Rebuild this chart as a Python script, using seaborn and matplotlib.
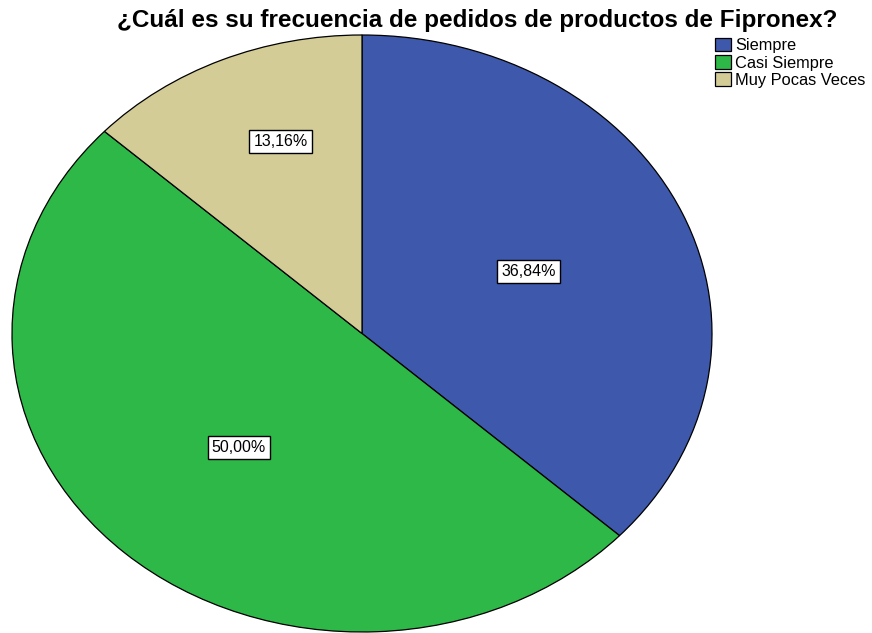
import matplotlib
matplotlib.use("Agg")
import matplotlib.pyplot as plt
import seaborn as sns

sns.set_theme(style="white")
plt.rcParams['font.family'] = ['Liberation Sans', 'DejaVu Sans']
plt.rcParams['text.color'] = 'black'

categories = ["Siempre", "Casi Siempre", "Muy Pocas Veces"]
values = [36.84, 50.00, 13.16]
colors = ["#3E58AC", "#2EB848", "#D4CC97"]

fig = plt.figure(figsize=(8.72, 6.33), dpi=100)
ax = fig.add_axes([12/872, 1/633, 700/872, 597/633])

wedges, texts, autotexts = ax.pie(
    values, colors=colors, startangle=90, counterclock=False,
    autopct=lambda p: f"{p:.2f}%".replace(".", ","), pctdistance=0.52,
    wedgeprops=dict(edgecolor="black", linewidth=0.9),
    textprops=dict(fontsize=11.5, color="black"))
ax.set_aspect('auto')
ax.set_xlim(-1.0, 1.0)
ax.set_ylim(-1.0, 1.0)

scale = [1.0, 1.0, 0.68 / 0.52]
for t, s in zip(autotexts, scale):
    x, y = t.get_position()
    t.set_position((x * s + (0.04 if s != 1.0 else 0.0), y * s + (0.02 if s != 1.0 else 0.0)))
    t.set_bbox(dict(facecolor="white", edgecolor="black", boxstyle="square,pad=0.25", linewidth=1.0))

fig.text(477/872, 1 - 20/633, "¿Cuál es su frecuencia de pedidos de productos de Fipronex?",
         ha="center", va="center", fontsize=17.5, fontweight="bold", color="black")

leg = fig.legend(wedges, categories, loc="upper left", bbox_to_anchor=(713/872, 1 - 36/633),
                 frameon=False, fontsize=11.8, handlelength=1.0, handleheight=0.9,
                 handletextpad=0.25, labelspacing=0.12, borderaxespad=0, borderpad=0.1)
for t in leg.get_texts():
    t.set_color("black")

fig.savefig("out.png", dpi=100)
